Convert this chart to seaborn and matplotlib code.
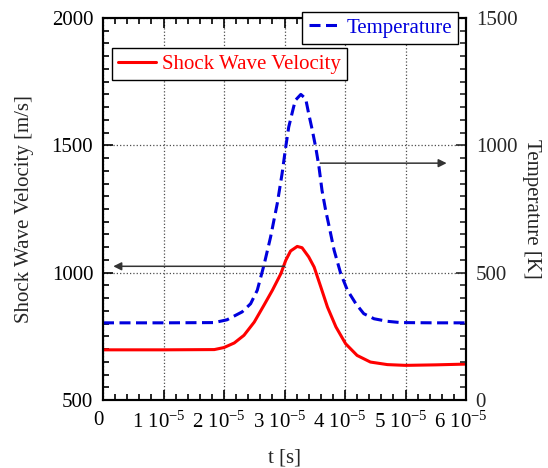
import numpy as np
import pandas as pd
import matplotlib
matplotlib.use("Agg")
import matplotlib.pyplot as plt
import matplotlib.transforms as mtransforms
import seaborn as sns
from matplotlib.ticker import MultipleLocator, FixedLocator, FixedFormatter

# ---- data (time in units of 1e-5 s) ----
t_vel = [0, 1.0, 1.84, 2.0, 2.17, 2.33, 2.50, 2.66, 2.80, 2.94, 3.02, 3.10, 3.21,
         3.29, 3.40, 3.49, 3.60, 3.71, 3.85, 4.01, 4.20, 4.42, 4.70, 5.0, 5.5, 6.0]
velocity = [697, 697, 698, 706, 724, 754, 806, 872, 931, 996, 1048, 1085, 1103,
            1098, 1062, 1022, 944, 865, 787, 721, 675, 649, 639, 636, 638, 641]

t_temp = [0, 1.0, 1.84, 2.05, 2.30, 2.44, 2.55, 2.66, 2.77, 2.88, 2.96, 3.02, 3.07,
          3.15, 3.18, 3.27, 3.35, 3.40, 3.46, 3.52, 3.57, 3.62, 3.68, 3.74, 3.82,
          3.93, 4.04, 4.18, 4.31, 4.48, 4.70, 4.92, 5.5, 6.0]
temperature = [303, 303, 304, 315, 346, 378, 431, 529, 640, 771, 889, 993, 1072,
               1150, 1177, 1200, 1183, 1124, 1059, 987, 915, 823, 745, 679, 588,
               496, 431, 378, 339, 319, 309, 304, 303, 303]

x_ticks = [0, 1, 2, 3, 4, 5, 6]
x_ticklabels = ["0"] + [r"%d 10$^{-5}$" % k for k in range(1, 7)]

df_v = pd.DataFrame({"t": np.array(t_vel) * 1e-5, "v": velocity})
df_T = pd.DataFrame({"t": np.array(t_temp) * 1e-5, "T": temperature})

sns.set_style("ticks")
plt.rcParams["font.family"] = ["Liberation Serif", "DejaVu Serif"]
plt.rcParams["mathtext.fontset"] = "custom"
plt.rcParams["mathtext.rm"] = "Liberation Serif"
plt.rcParams["mathtext.it"] = "Liberation Serif:italic"
plt.rcParams["mathtext.bf"] = "Liberation Serif:bold"

FS = 15
fig = plt.figure(figsize=(5.48, 4.68), dpi=100)
ax = fig.add_axes([103 / 548, 1 - 400 / 468, 363 / 548, 382 / 468])
ax2 = ax.twinx()

sns.lineplot(data=df_v, x="t", y="v", ax=ax, color="#ff0000", lw=2.2,
             label="Shock Wave Velocity", legend=False)
sns.lineplot(data=df_T, x="t", y="T", ax=ax2, color="#0000dd", lw=2.2,
             label="Temperature", legend=False)
ax2.lines[0].set_dashes([3.6, 1.8])

ax.set_xlim(0, 6e-5)
ax.set_ylim(500, 2000)
ax2.set_ylim(0, 1500)

ax.xaxis.set_major_locator(FixedLocator([v * 1e-5 for v in x_ticks]))
ax.xaxis.set_major_formatter(FixedFormatter(x_ticklabels))
ax.xaxis.set_minor_locator(MultipleLocator(0.2e-5))
ax.yaxis.set_major_locator(MultipleLocator(500))
ax.yaxis.set_minor_locator(MultipleLocator(50))
ax2.yaxis.set_major_locator(MultipleLocator(500))
ax2.yaxis.set_minor_locator(MultipleLocator(50))

ax.tick_params(axis="both", which="both", direction="in", labelsize=FS, top=True,
               colors="black")
ax.tick_params(axis="both", which="major", length=7, width=1.2)
ax.tick_params(axis="both", which="minor", length=4, width=1.2)
ax.tick_params(axis="x", pad=8)
ax.tick_params(axis="y", pad=7)
ax2.tick_params(axis="y", which="both", direction="in", labelsize=FS, pad=7)
ax2.tick_params(axis="y", which="major", length=7, width=1.2)
ax2.tick_params(axis="y", which="minor", length=4, width=1.2)

# shift x tick labels slightly left, as in the reference
offset = mtransforms.ScaledTranslation(-5 / 100, 0, fig.dpi_scale_trans)
for lab in ax.get_xticklabels():
    lab.set_transform(lab.get_transform() + offset)

for a in (ax, ax2):
    for s in a.spines.values():
        s.set_linewidth(1.5)
        s.set_color("black")

ax.grid(True, which="major", linestyle=":", color="0.3", linewidth=0.9)

ax.set_xlabel("t [s]", fontsize=FS, labelpad=12)
ax.set_ylabel("Shock Wave Velocity [m/s]", fontsize=FS, labelpad=13)
ax2.set_ylabel("Temperature [K]", fontsize=FS, rotation=270, labelpad=17)

# arrows pointing to the relevant axes
arrow_v_y, arrow_v_from, arrow_v_to = 1025, 3.0e-5, 0.17e-5
arrow_T_y, arrow_T_from, arrow_T_to = 930, 3.59e-5, 5.68e-5
ax.annotate("", xy=(arrow_v_to, arrow_v_y), xytext=(arrow_v_from, arrow_v_y),
            arrowprops=dict(arrowstyle="-|>", color="0.2", lw=1.1,
                            mutation_scale=12, shrinkA=0, shrinkB=0))
ax2.annotate("", xy=(arrow_T_to, arrow_T_y), xytext=(arrow_T_from, arrow_T_y),
             arrowprops=dict(arrowstyle="-|>", color="0.2", lw=1.1,
                             mutation_scale=12, shrinkA=0, shrinkB=0))

leg1 = ax.legend(loc="upper left", bbox_to_anchor=(0.025, 0.921), borderaxespad=0,
                 fontsize=FS, frameon=True, fancybox=False, framealpha=1,
                 edgecolor="black", handlelength=1.8, borderpad=0.3,
                 handletextpad=0.3)
leg1.get_frame().set_linewidth(1.0)
for txt in leg1.get_texts():
    txt.set_color("#ff0000")

leg2 = ax2.legend(loc="upper right", bbox_to_anchor=(0.978, 1.016), borderaxespad=0,
                  fontsize=FS, frameon=True, fancybox=False, framealpha=1,
                  edgecolor="black", handlelength=1.4, borderpad=0.3,
                  handletextpad=0.4)
leg2.get_frame().set_linewidth(1.0)
for txt in leg2.get_texts():
    txt.set_color("#0000dd")

fig.savefig("out.png", dpi=100)
